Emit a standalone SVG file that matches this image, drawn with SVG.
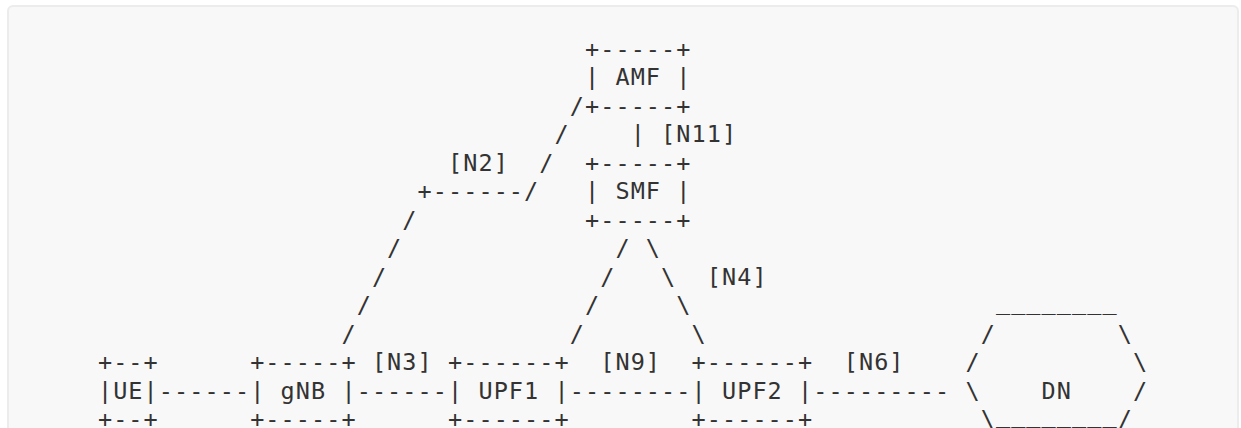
<svg xmlns="http://www.w3.org/2000/svg" width="1241" height="428" viewBox="0 0 1241 428" xml:space="preserve">
<style>
text { font-family: "DejaVu Sans Mono", "Liberation Mono", monospace; font-size: 23.5px; letter-spacing: 1.072px; fill: #333333; white-space: pre; }
</style>
<rect x="0" y="0" width="1241" height="428" fill="#ffffff"/>
<rect x="8" y="6" width="1230" height="440" rx="5" fill="#f8f8f8" stroke="#ececec" stroke-width="2"/>
<g id="node-amf">
<text x="584.97" y="56.8">+-----+</text>
<text x="584.97" y="85.3">| AMF |</text>
<text x="584.97" y="113.8">+-----+</text>
</g>
<g id="node-smf">
<text x="584.97" y="170.8">+-----+</text>
<text x="584.97" y="199.3">| SMF |</text>
<text x="584.97" y="227.8">+-----+</text>
</g>
<g id="node-ue">
<text x="97.93" y="370.3">+--+</text>
<text x="97.93" y="398.8">|UE|</text>
<text x="97.93" y="426.8">+--+</text>
</g>
<g id="node-gnb">
<text x="250.13" y="370.3">+-----+</text>
<text x="250.13" y="398.8">| gNB |</text>
<text x="250.13" y="426.8">+-----+</text>
</g>
<g id="node-upf1">
<text x="447.99" y="370.3">+------+</text>
<text x="447.99" y="398.8">| UPF1 |</text>
<text x="447.99" y="426.8">+------+</text>
</g>
<g id="node-upf2">
<text x="691.51" y="370.3">+------+</text>
<text x="691.51" y="398.8">| UPF2 |</text>
<text x="691.51" y="426.8">+------+</text>
</g>
<g id="node-dn">
<text x="995.91" y="309.3">________</text>
<text x="980.69" y="341.8">/</text>
<text x="1117.67" y="341.8">\</text>
<text x="965.47" y="370.3">/</text>
<text x="1132.89" y="370.3">\</text>
<text x="965.47" y="398.8">\</text>
<text x="1041.57" y="398.8">DN</text>
<text x="1132.89" y="398.8">/</text>
<text x="980.69" y="426.8">\</text>
<text x="995.91" y="421.5">________</text>
<text x="1117.67" y="426.8">/</text>
</g>
<g id="connectors">
<text x="569.75" y="113.8">/</text>
<text x="554.53" y="142.3">/</text>
<text x="539.31" y="170.8">/</text>
<text x="417.55" y="199.3">+------/</text>
<text x="402.33" y="227.8">/</text>
<text x="387.11" y="256.3">/</text>
<text x="371.89" y="284.8">/</text>
<text x="356.67" y="313.3">/</text>
<text x="341.45" y="341.8">/</text>
<text x="447.99" y="170.8">[N2]</text>
<text x="630.63" y="142.3">|</text>
<text x="661.07" y="142.3">[N11]</text>
<text x="615.41" y="256.3">/</text>
<text x="600.19" y="284.8">/</text>
<text x="584.97" y="313.3">/</text>
<text x="569.75" y="341.8">/</text>
<text x="645.85" y="256.3">\</text>
<text x="661.07" y="284.8">\</text>
<text x="676.29" y="313.3">\</text>
<text x="691.51" y="341.8">\</text>
<text x="706.73" y="284.8">[N4]</text>
<text x="158.81" y="398.8">------</text>
<text x="356.67" y="398.8">------</text>
<text x="371.89" y="370.3">[N3]</text>
<text x="569.75" y="398.8">--------</text>
<text x="600.19" y="370.3">[N9]</text>
<text x="813.27" y="398.8">---------</text>
<text x="843.71" y="370.3">[N6]</text>
</g>
</svg>
